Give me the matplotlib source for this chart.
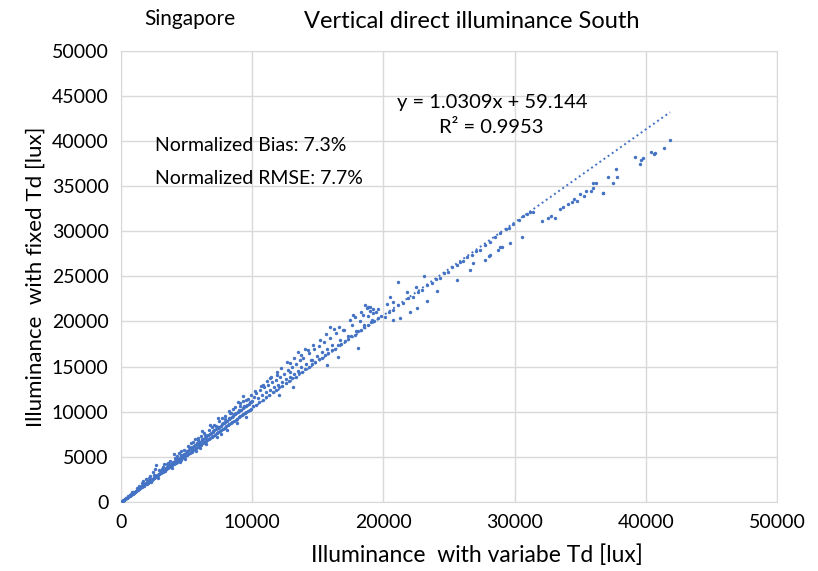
import numpy as np
import matplotlib
matplotlib.use("Agg")
import matplotlib.pyplot as plt

plt.rcParams['font.family'] = ['Lato', 'DejaVu Sans']

# scatter values, (variable Td, fixed Td) in lux
pts_low = [(60, 70), (110, 110), (150, 170), (190, 200), (240, 260), (280, 300), (330, 350),
           (370, 400), (420, 460), (460, 480), (510, 550), (560, 600), (600, 640), (650, 700),
           (700, 740), (740, 800), (790, 830), (840, 910), (880, 920), (930, 1010), (980, 1030),
           (1030, 1110), (1080, 1130), (1120, 1200), (1170, 1220), (1220, 1320), (1270, 1320),
           (1320, 1430), (1360, 1420), (1410, 1530), (1460, 1520), (1510, 1640), (1560, 1620),
           (1610, 1750), (1650, 1720), (1700, 1840), (1750, 1810), (1800, 1950), (1850, 1930),
           (1900, 2060), (1940, 2020), (1990, 2160), (2040, 2140), (2090, 2270), (2140, 2230),
           (2190, 2380), (2230, 2320), (2280, 2480), (2330, 2440), (2380, 2590), (2430, 2530),
           (2480, 2700), (2520, 2640), (2570, 2810), (2620, 2730), (2670, 2920), (2720, 2850),
           (2770, 3020), (2810, 2950), (2860, 3130), (2910, 3040), (2960, 3220),
           (900, 1150), (1400, 1750), (1700, 2300), (2100, 2700), (2450, 3300), (2700, 4100),
           (2300, 2200), (1900, 2500), (2600, 3600), (2800, 2650), (2200, 2900), (1600, 2100),
           (2500, 3000), (2900, 3500), (1200, 1500), (800, 1050)]

pts_mid = [(3020, 3300), (3080, 3190), (3150, 3450), (3210, 3340), (3260, 3560), (3330, 3450),
           (3390, 3700), (3440, 3600), (3510, 3820), (3570, 3720), (3620, 3960), (3690, 3840),
           (3740, 4120), (3810, 3960), (3860, 4230), (3920, 4080), (3990, 4400), (4040, 4190),
           (4100, 4520), (4170, 4330), (4220, 4640), (4280, 4440), (4350, 4800), (4400, 4580),
           (4470, 4900), (4530, 4700), (4580, 5080), (4650, 4830), (4700, 5180), (4770, 4950),
           (4830, 5350), (4880, 5080), (4950, 5460), (5010, 5200), (5060, 5620), (5130, 5330),
           (5190, 5700), (5240, 5460), (5310, 5890), (5370, 5580), (5420, 6000), (5490, 5700),
           (5550, 6150), (5600, 5840), (5670, 6260), (5730, 5960), (5780, 6420), (5850, 6080),
           (5910, 6540), (5960, 6230), (6030, 6690), (6090, 6330), (6140, 6810), (6210, 6480),
           (6270, 6930), (6320, 6600), (6390, 7100), (6450, 6720), (6500, 7200), (6570, 6860),
           (6630, 7380), (6680, 6970), (6750, 7480), (6810, 7110), (6860, 7650), (6930, 7220),
           (6990, 7760), (7040, 7350), (7110, 7920), (7170, 7470), (7220, 8040), (7290, 7600),
           (7350, 8180), (7400, 7720), (7470, 8330), (7530, 7850), (7580, 8460), (7650, 7970),
           (7710, 8600), (7760, 8100), (7830, 8720), (7890, 8220), (7940, 8880), (8010, 8360),
           (8070, 9000), (8120, 8470), (8190, 9150), (8250, 8610), (8300, 9280), (8370, 8720),
           (8430, 9410), (8480, 8860), (8550, 9560), (8610, 8980), (8660, 9690), (8730, 9110),
           (8790, 9820), (8840, 9230), (8910, 9960), (8970, 9360), (9020, 10080), (9090, 9490),
           (9150, 10230), (9200, 9600), (9270, 10360), (9330, 9740), (9380, 10500), (9450, 9860),
           (9510, 10630), (9560, 9980), (9630, 10770), (9690, 10110), (9740, 10900), (9810, 10230),
           (9870, 11040), (9920, 10350), (9990, 11170),
           (3400, 3750), (3800, 4200), (4200, 4750), (4600, 5150), (5000, 5600), (5400, 6050),
           (5800, 6550), (6200, 6950), (6600, 7450), (7000, 7900), (7400, 8350), (7800, 8800),
           (8200, 9250), (8600, 9700), (9000, 10150), (9400, 10600), (9800, 11050), (3600, 4350),
           (4300, 5050), (5200, 6100), (5900, 6900), (6400, 7450), (7200, 8400), (7900, 9200),
           (8400, 9800), (9100, 10650), (9700, 11400), (4500, 4450), (6000, 5950), (7600, 7500),
           (8800, 8700), (3300, 4200), (5600, 7000), (8200, 10100), (9300, 11700), (6800, 8500),
           (3100, 3700), (3500, 4200), (3700, 4500), (4100, 4900), (4400, 5400), (4800, 5800),
           (5100, 6200), (5500, 6600), (5900, 7100), (6300, 7600), (6700, 8000), (7100, 8500),
           (7500, 9000), (7900, 9500), (8300, 9900), (8700, 10500), (9100, 11000), (9500, 11300),
           (9900, 11900), (3900, 3800), (4900, 4800), (5700, 5600), (6500, 6400), (7300, 7200),
           (8100, 8000), (9500, 9400), (4000, 5300), (6200, 7900), (7400, 9300), (8900, 11100),
           (3200, 3900), (4600, 5600), (5300, 6500), (6100, 7300), (6900, 8300), (7700, 9300),
           (8500, 10300), (9300, 11200)]

pts_high = [(10050, 10600), (10300, 10780), (10550, 11120), (10800, 11300), (11050, 11650),
            (11300, 11820), (11550, 12170), (11800, 12350), (12050, 12700), (12300, 12860),
            (12550, 13220), (12800, 13380), (13050, 13740), (13300, 13900), (13550, 14250),
            (13800, 14420), (14050, 14780), (14300, 14930), (14550, 15290), (14800, 15460),
            (15050, 15800), (15300, 15970), (15550, 16320), (15800, 16490), (16050, 16840),
            (16300, 17000), (16550, 17350), (16800, 17510), (17050, 17860), (17300, 18030),
            (17550, 18380), (17800, 18540), (18050, 18890), (18300, 19060), (18550, 19400),
            (18800, 19570), (19050, 19900), (19300, 20080), (19550, 20420), (19800, 20600),
            (10100, 11600), (10300, 12050), (10450, 11500), (10600, 12400), (10750, 11900),
            (10900, 12700), (11050, 12200), (11200, 13000), (11350, 12450), (11500, 13300),
            (11650, 12700), (11800, 13500), (11950, 13000), (12100, 13900), (12250, 13300),
            (12400, 14200), (12550, 13600), (12700, 14600), (12850, 13900), (13000, 15000),
            (13150, 14200), (13300, 15300), (13450, 14500), (13600, 15700), (13750, 14900),
            (13900, 16000), (14100, 15300), (14300, 16500), (14500, 15700), (14700, 16900),
            (14900, 16200), (15100, 17300), (15300, 16600), (15500, 17700), (15700, 17000),
            (15900, 18200), (16100, 17400), (16400, 18700), (16700, 17900), (17000, 19100),
            (17300, 18400), (17600, 19600), (17900, 18900), (18200, 20100), (18500, 19600),
            (18800, 20600), (19100, 20200), (19400, 21000), (11870, 14450), (12880, 14450),
            (13510, 16660), (14280, 16850), (15930, 19440), (16950, 19070), (17450, 20180),
            (17710, 20730), (18850, 21590), (19230, 21360), (18420, 20730), (18730, 21470),
            (18980, 21590), (12630, 15550), (14530, 15740), (11360, 13710), (10850, 12970),
            (13130, 12780), (15680, 15190), (18090, 17040), (16560, 16110), (12000, 11800),
            (10200, 12300), (10700, 12800), (11100, 13400), (11400, 13800), (11900, 14100),
            (12200, 14800), (12900, 15400), (13200, 16000), (13700, 16300), (14000, 16900),
            (14600, 17400), (15200, 18000), (15600, 18600), (16200, 19200), (16600, 19400),
            (17800, 20500), (18300, 21000), (18600, 21800), (19000, 21200), (19600, 21400)]

pts_top = [(20120, 20540), (20400, 21000), (20760, 21290), (21100, 21800), (21520, 22030),
           (21900, 22600), (22280, 22760), (22600, 23300), (22920, 23500), (23300, 24050),
           (23680, 24310), (24000, 24750), (24310, 24800), (24650, 25400), (24950, 25530),
           (25250, 26050), (25580, 26270), (25850, 26600), (26090, 26720), (26400, 27200),
           (26730, 27380), (27050, 27850), (27360, 27940), (27700, 28500), (28120, 28860),
           (28500, 29350), (28890, 29790), (29300, 30250), (29600, 30400), (29900, 30820),
           (30300, 31300), (30660, 31710), (30950, 31900), (31200, 32100), (31430, 32180),
           (20760, 20180), (21260, 20370), (22030, 21100), (22540, 21470), (23300, 22280),
           (24060, 23430), (25580, 24610), (26600, 25720), (26850, 26460), (27740, 26830),
           (28120, 27380), (28760, 27940), (29020, 28240), (29650, 28680), (30590, 29350),
           (28890, 28240), (28050, 27310), (21140, 24360), (23120, 25060), (20500, 22760),
           (20700, 22210), (19230, 20920), (20300, 21900), (21800, 23300), (22500, 23800),
           (32065, 31153), (32560, 31520), (32770, 31740), (33080, 31520), (33460, 32450),
           (34090, 33040), (34350, 33290), (34780, 33400), (34980, 34150), (35290, 33920),
           (35440, 34510), (36000, 34770), (36200, 35330), (36760, 34220), (37140, 36000),
           (37520, 35330), (37730, 36880), (37780, 36000), (39180, 38220), (39560, 37470),
           (39760, 38100), (40370, 38730), (40700, 38660), (41410, 39210), (41840, 40130),
           (39630, 37880), (40620, 38580), (36000, 35330), (36760, 34290), (33700, 32700),
           (34500, 33600), (35800, 34500)]

# linear trendline reported on the chart
slope = 1.0309
intercept = 59.144

pts = np.array(pts_low + pts_mid + pts_high + pts_top, dtype=float)
x = pts[:, 0]
y = pts[:, 1]

blue = '#4472C4'
grid = '#d9d9d9'

fig = plt.figure(figsize=(8.18, 5.71), dpi=100)
ax = fig.add_axes([0.148, 0.121, 0.802, 0.790])

ax.scatter(x, y, s=6, color=blue, marker='o', linewidths=0, zorder=3)

xt = np.array([0, x.max()])
ax.plot(xt, slope * xt + intercept, color=blue, lw=1.4,
        linestyle=(0, (1, 1.6)), zorder=2)

ax.set_xlim(0, 50000)
ax.set_ylim(0, 50000)
ax.set_xticks(np.arange(0, 50001, 10000))
ax.set_yticks(np.arange(0, 50001, 5000))
ax.grid(True, color=grid, lw=1)
ax.set_axisbelow(True)
for s in ax.spines.values():
    s.set_color(grid)
ax.tick_params(length=0, labelsize=14, pad=9)

ax.set_xlabel('Illuminance  with variabe Td [lux]', fontsize=16.5)
ax.xaxis.set_label_coords(0.543, -0.095)
ax.set_ylabel('Illuminance  with fixed Td [lux]', fontsize=16, labelpad=4)

ax.text(28300, 44300, 'y = 1.0309x + 59.144', fontsize=14.5, ha='center', va='center')
ax.text(28200, 41500, 'R² = 0.9953', fontsize=14.5, ha='center', va='center')
ax.text(2600, 39500, 'Normalized Bias: 7.3%', fontsize=14, ha='left', va='center')
ax.text(2600, 35900, 'Normalized RMSE: 7.7%', fontsize=14, ha='left', va='center')

fig.text(190 / 818, 1 - 19 / 571, 'Singapore', fontsize=15, ha='center', va='center')
fig.text(472 / 818, 1 - 22 / 571, 'Vertical direct illuminance South', fontsize=17,
         ha='center', va='center')

fig.savefig('out.png', dpi=100)
